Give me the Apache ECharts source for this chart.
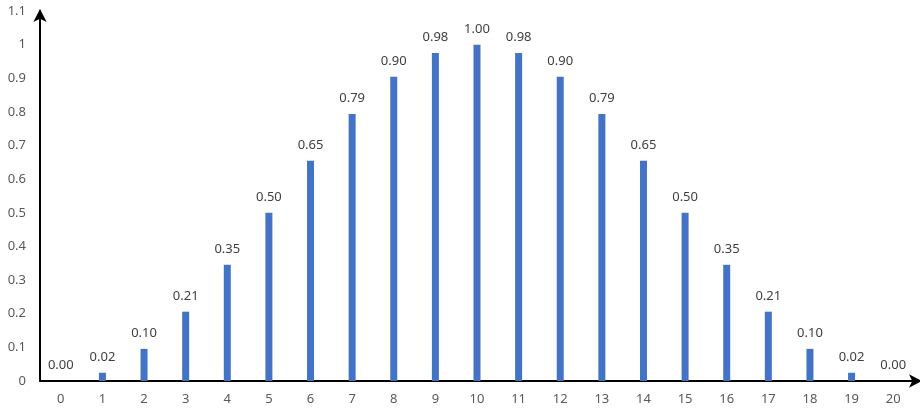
<!DOCTYPE html>
<html>
<head>
<meta charset="utf-8">
<script src="https://cdn.jsdelivr.net/npm/echarts@6/dist/echarts.min.js"></script>
<style>html,body{margin:0;padding:0;background:#fff}#c{width:920px;height:411px}</style>
</head>
<body>
<div id="c"></div>
<script>
const categories = ['0','1','2','3','4','5','6','7','8','9','10','11','12','13','14','15','16','17','18','19','20'];
const values = [0, 0.0245, 0.0955, 0.2061, 0.3455, 0.5, 0.6545, 0.7939, 0.9045, 0.9755, 1.0, 0.9755, 0.9045, 0.7939, 0.6545, 0.5, 0.3455, 0.2061, 0.0955, 0.0245, 0];
const yTicks = {min: 0, max: 1.1, interval: 0.1};

const chart = echarts.init(document.getElementById('c'));
chart.setOption({
  animation: false,
  grid: {left: 40, right: 6, top: 11, bottom: 30, containLabel: false},
  xAxis: {
    type: 'category',
    data: categories,
    axisLine: {show: true, symbol: ['none', 'arrow'], symbolSize: [10, 13], symbolOffset: [0, 8], lineStyle: {color: '#000', width: 2}},
    axisTick: {show: false},
    axisLabel: {color: '#595959', fontSize: 13, fontFamily: 'Noto Sans', margin: 12},
    splitLine: {show: false}
  },
  yAxis: {
    type: 'value',
    min: yTicks.min, max: yTicks.max, interval: yTicks.interval,
    axisLine: {show: true, symbol: ['none', 'arrow'], symbolSize: [10, 13], symbolOffset: [0, 2], lineStyle: {color: '#000', width: 2}},
    axisTick: {show: false},
    axisLabel: {color: '#595959', fontSize: 13, fontFamily: 'Noto Sans', margin: 14,
      formatter: v => String(Math.round(v * 10) / 10)},
    splitLine: {show: false}
  },
  series: [{
    type: 'bar',
    data: values,
    barWidth: 7,
    itemStyle: {color: '#4472C4'},
    label: {show: true, position: 'top', distance: 9, color: '#404040', fontSize: 13, fontFamily: 'Noto Sans',
      formatter: p => p.value.toFixed(2)}
  }]
});
</script>
</body>
</html>
